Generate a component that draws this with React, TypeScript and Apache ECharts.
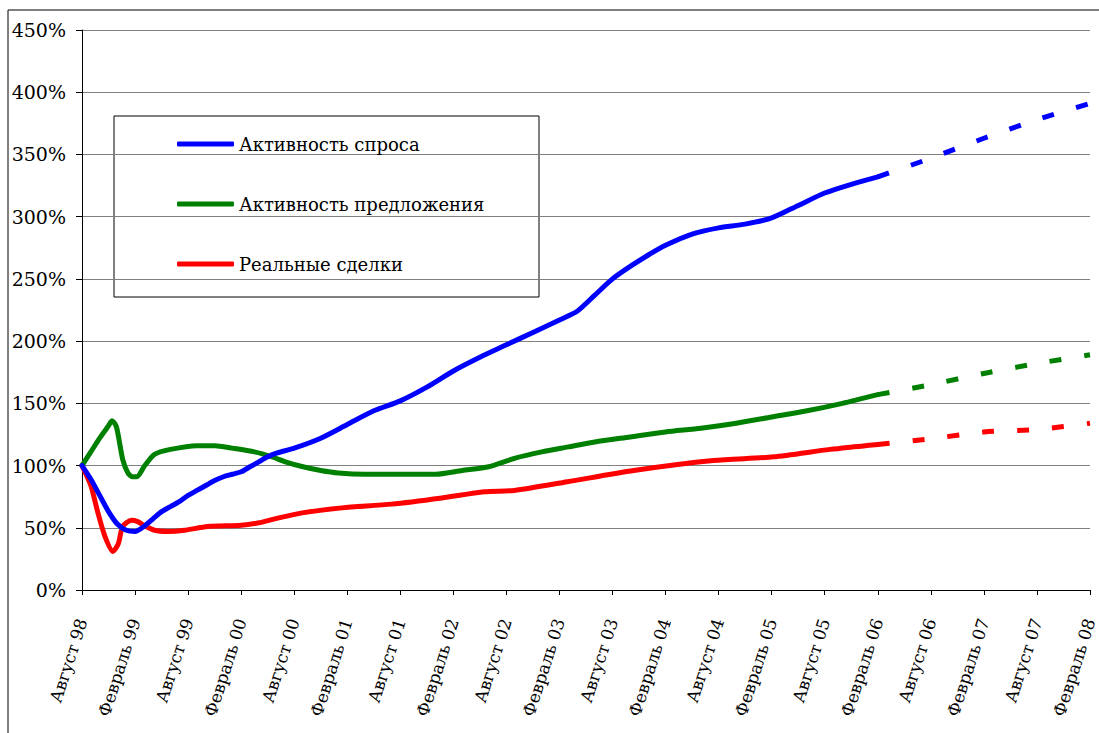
import React, { useEffect, useRef } from "react";
import * as echarts from "echarts";

// x = months since August 1998
const tickLabels = [
  "Август 98", "Февраль 99", "Август 99", "Февраль 00", "Август 00", "Февраль 01",
  "Август 01", "Февраль 02", "Август 02", "Февраль 03", "Август 03", "Февраль 04",
  "Август 04", "Февраль 05", "Август 05", "Февраль 06", "Август 06", "Февраль 07",
  "Август 07", "Февраль 08",
];

const seriesNames = ["Активность спроса", "Активность предложения", "Реальные сделки"];
const seriesColors = ["#0000FF", "#008000", "#FF0000"];

const demandMonths = [0, 1, 2, 3, 4, 5, 6, 7, 8, 9, 10, 11, 12, 13, 14, 15, 16, 17, 18, 19, 20, 21, 22, 24, 27, 30, 33, 36, 39, 42, 45, 48, 51, 54, 56, 58, 60, 62, 64, 66, 69, 72, 75, 78, 81, 84, 87, 90];
const demandValues = [100, 89, 76, 63, 53, 48, 47, 51, 57, 63, 67, 71, 76, 80, 84, 88, 91, 93, 95, 99, 103, 107, 110, 114, 122, 133, 144, 152, 163, 176, 187, 197, 207, 217, 224, 237, 250, 260, 269, 277, 286, 291, 294, 299, 309, 319, 326, 332];

const supplyMonths = [0, 1, 2, 3, 3.4, 3.9, 4.6, 5.2, 5.7, 6.2, 7.1, 8.2, 10, 13, 15, 17, 19.5, 21.5, 23, 25, 27, 29, 32, 35, 38, 40, 43, 46, 49, 52, 55, 58, 62, 66, 70, 74, 78, 82, 86, 90];
const supplyValues = [100, 111, 122, 132, 136, 131, 105, 94, 91, 91, 100, 109, 113, 116, 116, 114, 111, 107, 103, 99, 96, 94, 93, 93, 93, 93, 96, 99, 106, 111, 115, 119, 123, 127, 130, 134, 139, 144, 150, 157];

const dealsMonths = [0, 1, 1.8, 2.6, 3.5, 4.1, 4.6, 5.6, 6.3, 7, 8.2, 9.7, 11.6, 14.2, 18, 20, 21.7, 24.9, 29.4, 35, 40.7, 45.5, 48.9, 54.9, 62.4, 71.4, 78.2, 84.6, 90];
const dealsValues = [100, 84, 62, 43, 31, 37, 51, 56, 55, 52, 48, 47, 48, 51, 52, 54, 57, 62, 66, 69, 74, 79, 80, 87, 96, 104, 107, 113, 117];

const forecastMonths = [90, 96, 102, 108, 114];
const demandForecast = [332, 347, 363, 378, 391];
const supplyForecast = [157, 165, 174, 182, 189];
const dealsForecast = [117, 121.5, 127, 129, 134];

const pairs = (xs: number[], ys: number[]) => xs.map((x, i) => [x, ys[i]]);

const FONT = "DejaVu Serif";

export default function App() {
  const ref = useRef<HTMLDivElement>(null);
  useEffect(() => {
    document.body.style.margin = "0";
    if (!ref.current) return;
    const chart = echarts.init(ref.current, null, { renderer: "svg" });
    const solid = [
      pairs(demandMonths, demandValues),
      pairs(supplyMonths, supplyValues),
      pairs(dealsMonths, dealsValues),
    ];
    const dashed = [
      pairs(forecastMonths, demandForecast),
      pairs(forecastMonths, supplyForecast),
      pairs(forecastMonths, dealsForecast),
    ];
    const series: any[] = [];
    seriesNames.forEach((name, i) => {
      series.push({
        name,
        type: "line",
        data: solid[i],
        showSymbol: false,
        symbol: "none",
        smooth: 0.25,
        color: seriesColors[i],
        lineStyle: { width: 5, color: seriesColors[i], cap: "round", join: "round" },
        z: 5 - i,
      });
      series.push({
        name: name + " (прогноз)",
        type: "line",
        data: dashed[i],
        showSymbol: false,
        symbol: "none",
        smooth: 0.25,
        color: seriesColors[i],
        lineStyle: { width: 5, color: seriesColors[i], type: [12, 23], cap: "butt" },
        z: 5 - i,
      });
    });
    chart.setOption({
      animation: false,
      backgroundColor: "#ffffff",
      textStyle: { fontFamily: FONT },
      grid: { left: 82, top: 30, width: 1013, height: 560, containLabel: false },
      xAxis: {
        type: "value",
        min: 0,
        max: 114,
        interval: 6,
        axisLine: { show: true, lineStyle: { color: "#000", width: 1 } },
        axisTick: { show: true, length: 5, lineStyle: { color: "#000" } },
        splitLine: { show: false },
        axisLabel: {
          rotate: 72,
          margin: 29,
          color: "#000",
          fontFamily: FONT,
          fontSize: 17,
          showMaxLabel: true,
          showMinLabel: true,
          formatter: (v: number) => tickLabels[Math.round(v / 6)] ?? "",
        },
      },
      yAxis: {
        type: "value",
        min: 0,
        max: 450,
        interval: 50,
        axisLine: { show: true, lineStyle: { color: "#000", width: 1 } },
        axisTick: { show: true, length: 6, lineStyle: { color: "#000" } },
        splitLine: { show: true, lineStyle: { color: "#808080", width: 1 } },
        axisLabel: {
          color: "#000",
          fontFamily: FONT,
          fontSize: 19,
          margin: 16,
          formatter: "{value}%",
        },
      },
      legend: {
        data: seriesNames,
        orient: "vertical",
        left: 177,
        top: 133,
        icon: "roundRect",
        itemWidth: 57,
        itemHeight: 5,
        itemGap: 38,
        padding: 0,
        textStyle: { color: "#000", fontFamily: FONT, fontSize: 18, lineHeight: 22 },
        selectedMode: false,
      },
      graphic: [
        {
          type: "rect",
          shape: { x: 8, y: 10, width: 1200, height: 800 },
          style: { fill: "none", stroke: "#000", lineWidth: 1 },
          silent: true,
          z: 100,
        },
        {
          type: "rect",
          shape: { x: 114, y: 116, width: 425, height: 181 },
          style: { fill: "#fff", stroke: "#000", lineWidth: 1 },
          silent: true,
          z: 0,
        },
      ],
      series,
    });
    return () => chart.dispose();
  }, []);
  return <div ref={ref} style={{ width: 1099, height: 733 }} />;
}
